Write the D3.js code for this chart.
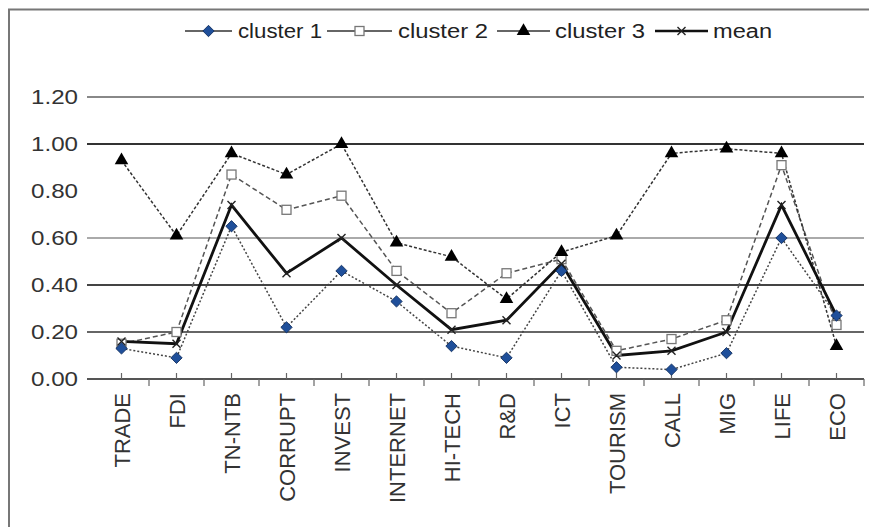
<!DOCTYPE html>
<html><head><meta charset="utf-8">
<script src="https://cdn.jsdelivr.net/npm/d3@7"></script>
<style>
html,body{margin:0;padding:0;background:#fff;}
svg{display:block;font-family:"Liberation Sans",Arial,sans-serif;}
</style></head>
<body><svg id="chart" width="869" height="527"></svg>
<script>
const categories = ["TRADE","FDI","TN-NTB","CORRUPT","INVEST","INTERNET","HI-TECH","R&D","ICT","TOURISM","CALL","MIG","LIFE","ECO"];
const cluster1 = [0.13,0.09,0.65,0.22,0.46,0.33,0.14,0.09,0.46,0.05,0.04,0.11,0.60,0.27];
const cluster2 = [0.15,0.20,0.87,0.72,0.78,0.46,0.28,0.45,0.51,0.12,0.17,0.25,0.91,0.23];
const cluster3 = [0.93,0.61,0.96,0.87,1.00,0.58,0.52,0.34,0.54,0.61,0.96,0.98,0.96,0.14];
const meanVals = [0.16,0.15,0.74,0.45,0.60,0.40,0.21,0.25,0.49,0.10,0.12,0.20,0.74,0.27];
const yTicks = [0,0.2,0.4,0.6,0.8,1.0,1.2];
const seriesNames = ["cluster 1","cluster 2","cluster 3","mean"];

const svg = d3.select("#chart");
// outer frame
svg.append("path").attr("d","M9,528 V9.5 H870").attr("fill","none").attr("stroke","#777").attr("stroke-width",2);

const x = d3.scaleBand().domain(categories).range([94,864]);
const y = d3.scaleLinear().domain([0,1.2]).range([379,97]);
const cx = d => x(d) + x.bandwidth()/2;

// gridlines
const gridStyle = {"0.2":["#666",2],"0.4":["#444",2],"0.6":["#aaa",2],"1":["#333",2],"1.2":["#888",2]};
yTicks.forEach(t=>{
  const s = gridStyle[String(t)];
  if(!s) return;
  svg.append("line").attr("x1",87).attr("x2",864).attr("y1",y(t)).attr("y2",y(t))
    .attr("stroke",s[0]).attr("stroke-width",s[1]);
});
// y labels
svg.append("g").selectAll("text").data(yTicks).join("text")
  .attr("x",78).attr("y",d=>y(d)).attr("dy","0.35em").attr("text-anchor","end")
  .attr("font-size",20).attr("fill","#333").attr("textLength",47).attr("lengthAdjust","spacingAndGlyphs")
  .text(d=>d.toFixed(2));

// x axis line
svg.append("line").attr("x1",87).attr("x2",864).attr("y1",y(0)).attr("y2",y(0)).attr("stroke","#555").attr("stroke-width",2);
// ticks: boundaries down, centers up
const bounds = categories.map(c=>x(c)).concat([x.range()[1]]);
svg.append("g").selectAll("line").data(bounds.slice(1)).join("line")
  .attr("x1",d=>d).attr("x2",d=>d).attr("y1",y(0)).attr("y2",y(0)+7).attr("stroke","#666").attr("stroke-width",1.2);
svg.append("g").selectAll("line").data(categories).join("line")
  .attr("x1",d=>cx(d)).attr("x2",d=>cx(d)).attr("y1",y(0)-6).attr("y2",y(0)).attr("stroke","#666").attr("stroke-width",1.2);
// x labels
svg.append("g").selectAll("text").data(categories).join("text")
  .attr("transform",d=>`translate(${cx(d)+8},${y(0)+14}) rotate(-90)`)
  .attr("text-anchor","end").attr("font-size",22).attr("fill","#333")
  .text(d=>d);

// series
const data = [cluster1,cluster2,cluster3,meanVals];
const styles = [
  {stroke:"#444",width:1.5,dash:"2,2"},
  {stroke:"#555",width:1.5,dash:"5,3"},
  {stroke:"#333",width:1.5,dash:"3,2"},
  {stroke:"#111",width:2.8,dash:null}
];
const line = d3.line().x((d,i)=>cx(categories[i])).y(d=>y(d));

function marker(g, k, px, py){
  if(k===0){
    g.append("rect").attr("x",-4).attr("y",-4).attr("width",8).attr("height",8)
      .attr("transform",`translate(${px},${py}) rotate(45)`)
      .attr("fill","#1f4f9a").attr("stroke","#0d2a5a").attr("stroke-width",0.8);
  } else if(k===1){
    g.append("rect").attr("x",px-4.5).attr("y",py-4.5).attr("width",9).attr("height",9)
      .attr("fill","#fff").attr("stroke","#777").attr("stroke-width",1.3);
  } else if(k===2){
    g.append("path").attr("d",d3.symbol(d3.symbolTriangle,80)()).attr("transform",`translate(${px},${py})`)
      .attr("fill","#000");
  } else {
    g.append("path").attr("d",`M${px-4},${py-4}L${px+4},${py+4}M${px-4},${py+4}L${px+4},${py-4}`)
      .attr("stroke","#222").attr("stroke-width",1.4);
  }
}

data.forEach((vals,k)=>{
  const g = svg.append("g");
  g.append("path").datum(vals).attr("d",line).attr("fill","none")
    .attr("stroke",styles[k].stroke).attr("stroke-width",styles[k].width)
    .attr("stroke-dasharray",styles[k].dash);
});
[1,3,0,2].forEach(k=>{
  const g = svg.append("g");
  data[k].forEach((v,i)=>marker(g,k,cx(categories[i]),y(v)));
});

// legend
const legLine = [[185,232],[327,392],[497,550],[655,708]];
const legText = [[238,84],[398,90],[555,90],[713,59]];
const legY = 31;
seriesNames.forEach((n,k)=>{
  const g = svg.append("g");
  const [a,b] = legLine[k];
  g.append("line").attr("x1",a).attr("x2",b).attr("y1",legY).attr("y2",legY)
    .attr("stroke",k===3?"#111":"#333").attr("stroke-width",k===3?2.5:1.5);
  marker(g,k,(a+b)/2,legY);
  g.append("text").attr("x",legText[k][0]).attr("y",legY).attr("dy","0.35em")
    .attr("font-size",20).attr("fill","#222")
    .attr("textLength",legText[k][1]).attr("lengthAdjust","spacingAndGlyphs").text(n);
});
</script>
</body></html>
